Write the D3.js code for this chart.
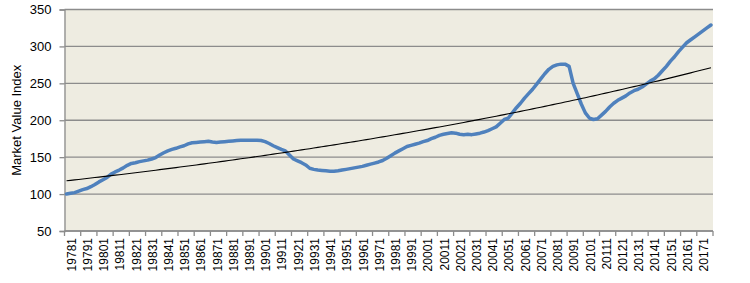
<!DOCTYPE html>
<html>
<head>
<meta charset="utf-8">
<script src="https://cdn.jsdelivr.net/npm/d3@7"></script>
<style>
  body { margin: 0; background: #fff; }
  svg { display: block; }
</style>
</head>
<body>
<div id="chart"></div>
<script>
// Quarterly categories, label = year + quarter digit (e.g. 19781)
const years = d3.range(1978, 2018);
const quarters = years.flatMap(y => [1, 2, 3, 4].map(q => `${y}${q}`));

// Market value index, one value per quarter (1978Q1 .. 2017Q4)
const marketValues = [
  100, 101, 102, 104, 106, 107.5, 110, 113,
  116.5, 119.5, 122.5, 127, 130, 132.5, 135.5, 139,
  141.5, 142.5, 144, 145, 146, 147.5, 149.5, 153,
  156, 158.5, 160.5, 162, 164, 165.5, 168, 169.5,
  170, 170.5, 171, 171.5, 170.5, 170, 170.5, 171,
  171.5, 172, 172.5, 173, 173, 173, 173, 173,
  172.5, 171, 168.5, 165.5, 163, 160.5, 158.5, 153,
  147.5, 145, 142.5, 139.5, 135, 133.5, 132.5, 132,
  131.5, 131, 131, 131.5, 132.5, 133.5, 134.5, 135.5,
  136.5, 137.5, 139, 140.5, 142, 143.5, 145.5, 148.5,
  152, 155.5, 158.5, 161.5, 164.5, 166, 167.5, 169,
  171, 172.5, 175, 177, 179.5, 181, 182, 183,
  182.5, 181, 180.5, 181, 180.5, 181.5, 182.5, 184,
  186, 188.5, 191, 196, 201, 203, 210, 217,
  223, 230, 236, 242, 249, 256, 263, 269,
  273, 275, 276, 276, 273, 250, 236, 222,
  210, 203, 201, 202, 207, 212, 218, 223,
  227, 230, 233, 237, 240, 242, 245, 249,
  253, 256, 261, 267, 273, 280, 286, 293,
  299, 305, 309, 313, 317, 321, 325, 329
];

const yTicks = [50, 100, 150, 200, 250, 300, 350];

const width = 750, height = 283;
const margin = { left: 64.5, right: 37, top: 9.5, bottom: 52 };

const svg = d3.select('#chart')
  .append('svg')
  .attr('width', width)
  .attr('height', height);

const x = d3.scaleBand()
  .domain(quarters)
  .range([margin.left, width - margin.right])
  .padding(0);

const y = d3.scaleLinear()
  .domain([50, 350])
  .range([height - margin.bottom, margin.top]);

const cx = q => x(q) + x.bandwidth() / 2;

// plot area background
svg.append('rect')
  .attr('x', margin.left)
  .attr('y', margin.top)
  .attr('width', width - margin.right - margin.left)
  .attr('height', height - margin.bottom - margin.top)
  .attr('fill', '#EEECE1');

// horizontal gridlines
svg.append('g')
  .selectAll('line')
  .data(yTicks)
  .join('line')
  .attr('x1', margin.left)
  .attr('x2', width - margin.right)
  .attr('y1', d => y(d))
  .attr('y2', d => y(d))
  .attr('stroke', '#8C8C8C')
  .attr('stroke-width', 1.3);

// y axis
const yAxis = svg.append('g')
  .attr('transform', `translate(${margin.left},0)`)
  .call(d3.axisLeft(y).tickValues(yTicks).tickSize(5).tickPadding(8));
yAxis.select('.domain').attr('stroke', '#8C8C8C').attr('stroke-width', 1.3);
yAxis.selectAll('.tick line').attr('stroke', '#8C8C8C').attr('stroke-width', 1.3);
yAxis.selectAll('text')
  .attr('fill', '#000')
  .style('font-family', '"Liberation Sans", Arial, sans-serif')
  .style('font-size', '13px');

// x axis: ticks at year boundaries, labels at first quarter of each year
const yearStarts = quarters.filter(q => q.endsWith('1'));
const xg = svg.append('g');
xg.append('line')
  .attr('x1', margin.left).attr('x2', width - margin.right)
  .attr('y1', y(50)).attr('y2', y(50))
  .attr('stroke', '#8C8C8C').attr('stroke-width', 1.3);
xg.selectAll('line.tick')
  .data(yearStarts.map(q => x(q)).concat([width - margin.right]))
  .join('line')
  .attr('class', 'tick')
  .attr('x1', d => d).attr('x2', d => d)
  .attr('y1', y(50)).attr('y2', y(50) + 5)
  .attr('stroke', '#8C8C8C').attr('stroke-width', 1.3);
xg.selectAll('text')
  .data(yearStarts)
  .join('text')
  .attr('transform', q => `translate(${x(q) + 7},${y(50) + 7}) rotate(-90)`)
  .attr('text-anchor', 'end')
  .attr('dy', '0.35em')
  .style('font-family', '"Liberation Sans", Arial, sans-serif')
  .style('font-size', '12px')
  .text(q => q);

// y axis title
svg.append('text')
  .attr('transform', `translate(16,${(margin.top + height - margin.bottom) / 2}) rotate(-90)`)
  .attr('text-anchor', 'middle')
  .attr('dy', '0.35em')
  .style('font-family', '"Liberation Sans", Arial, sans-serif')
  .style('font-size', '13px')
  .text('Market Value Index');

// exponential trendline (least squares on log values, like a spreadsheet trendline)
const n = marketValues.length;
const xs = d3.range(1, n + 1);
const ls = marketValues.map(v => Math.log(v));
const mx = d3.mean(xs), ml = d3.mean(ls);
const b = d3.sum(xs, (t, i) => (t - mx) * (ls[i] - ml)) / d3.sum(xs, t => (t - mx) * (t - mx));
const a = ml - b * mx;
const trend = quarters.map((q, i) => ({ q, v: Math.exp(a + b * (i + 1)) }));

// data line
svg.append('path')
  .datum(quarters.map((q, i) => ({ q, v: marketValues[i] })))
  .attr('fill', 'none')
  .attr('stroke', '#4F81BD')
  .attr('stroke-width', 3.5)
  .attr('stroke-linejoin', 'round')
  .attr('stroke-linecap', 'round')
  .attr('d', d3.line().x(d => cx(d.q)).y(d => y(d.v)));

svg.append('path')
  .datum(trend)
  .attr('fill', 'none')
  .attr('stroke', '#000')
  .attr('stroke-width', 1.1)
  .attr('d', d3.line().x(d => cx(d.q)).y(d => y(d.v)));
</script>
</body>
</html>
